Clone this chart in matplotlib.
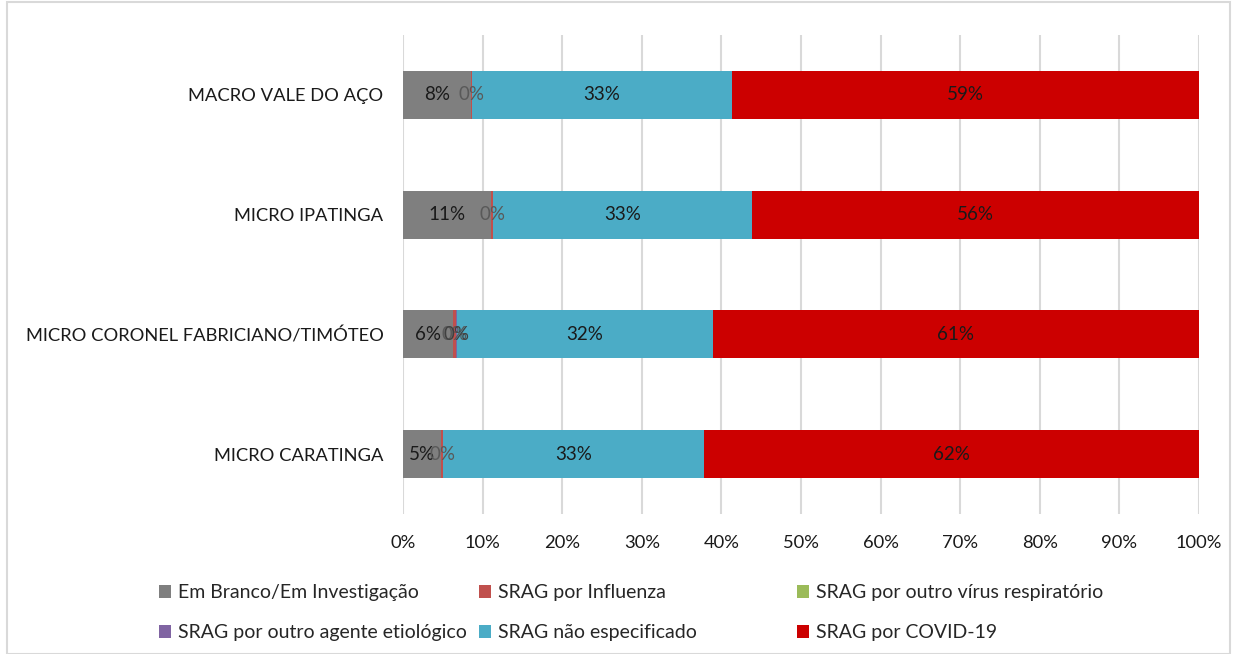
import numpy as np
import matplotlib
matplotlib.use('Agg')
import matplotlib.pyplot as plt
from matplotlib.patches import Rectangle

plt.rcParams['font.family'] = ['Lato', 'DejaVu Sans']

categorias = ['MACRO VALE DO AÇO', 'MICRO IPATINGA',
              'MICRO CORONEL FABRICIANO/TIMÓTEO', 'MICRO CARATINGA']
em_branco = [8.5, 11.1, 6.3, 4.8]
influenza = [0.2, 0.2, 0.3, 0.2]
outro_virus = [0.0, 0.0, 0.0, 0.0]
outro_agente = [0.0, 0.0, 0.2, 0.0]
nao_especificado = [32.6, 32.6, 32.1, 32.8]
covid = [58.7, 56.1, 61.1, 62.2]

series = [
    ('Em Branco/Em Investigação', em_branco, '#7F7F7F', '#1a1a1a'),
    ('SRAG por Influenza', influenza, '#C0504D', '#595959'),
    ('SRAG por outro vírus respiratório', outro_virus, '#9BBB59', None),
    ('SRAG por outro agente etiológico', outro_agente, '#8064A2', '#404040'),
    ('SRAG não especificado', nao_especificado, '#4BACC6', '#1a1a1a'),
    ('SRAG por COVID-19', covid, '#CC0000', '#1a1a1a'),
]
xticks = np.arange(0, 101, 10)

fig = plt.figure(figsize=(12.37, 6.54), dpi=100)
ax = fig.add_axes([403 / 1237, 1 - 514 / 654, 796 / 1237, 479 / 654])

y = np.arange(len(categorias))[::-1]
left = np.zeros(len(categorias))
handles = []
for nome, vals, cor, cor_txt in series:
    vals = np.array(vals)
    b = ax.barh(y, vals, left=left, height=0.4, color=cor, label=nome, zorder=3)
    handles.append(b)
    if cor_txt is not None:
        for i, v in enumerate(vals):
            if nome == 'SRAG por outro agente etiológico' and v == 0:
                continue
            ax.text(left[i] + v / 2, y[i], '%d%%' % round(v), ha='center', va='center',
                    fontsize=13.5, color=cor_txt, zorder=4)
    left += vals

ax.set_xlim(0, 100)
ax.set_ylim(-0.5, 3.5)
ax.set_yticks(y)
ax.set_yticklabels(categorias, fontsize=13.2, color='#1a1a1a')
ax.set_xticks(xticks)
ax.set_xticklabels(['%d%%' % t for t in xticks], fontsize=13.2, color='#1a1a1a')
ax.tick_params(length=0)
ax.tick_params(axis='x', pad=15)
ax.tick_params(axis='y', pad=14)
ax.xaxis.grid(True, color='#D9D9D9', linewidth=1.5, zorder=0)
for s in ax.spines.values():
    s.set_visible(False)

# legenda: 3 colunas de largura fixa, como no Excel
colunas = [(0, 3), (1, 4), (2, 5)]
x_col = [143, 463, 781]
for (a, b), xc in zip(colunas, x_col):
    leg = fig.legend([handles[a], handles[b]], [series[a][0], series[b][0]],
                     loc='lower left', bbox_to_anchor=(xc / 1237, -3 / 654),
                     frameon=False, fontsize=14, handlelength=0.65, handleheight=0.65,
                     handletextpad=0.35, labelspacing=1.2, borderpad=0.3,
                     labelcolor='#262626')

fig.patches.append(Rectangle((7 / 1237, 0), 1 - 14 / 1237, 1 - 2 / 654, transform=fig.transFigure,
                             fill=False, edgecolor='#D9D9D9', linewidth=1.5))

fig.savefig('out.png', dpi=100)
